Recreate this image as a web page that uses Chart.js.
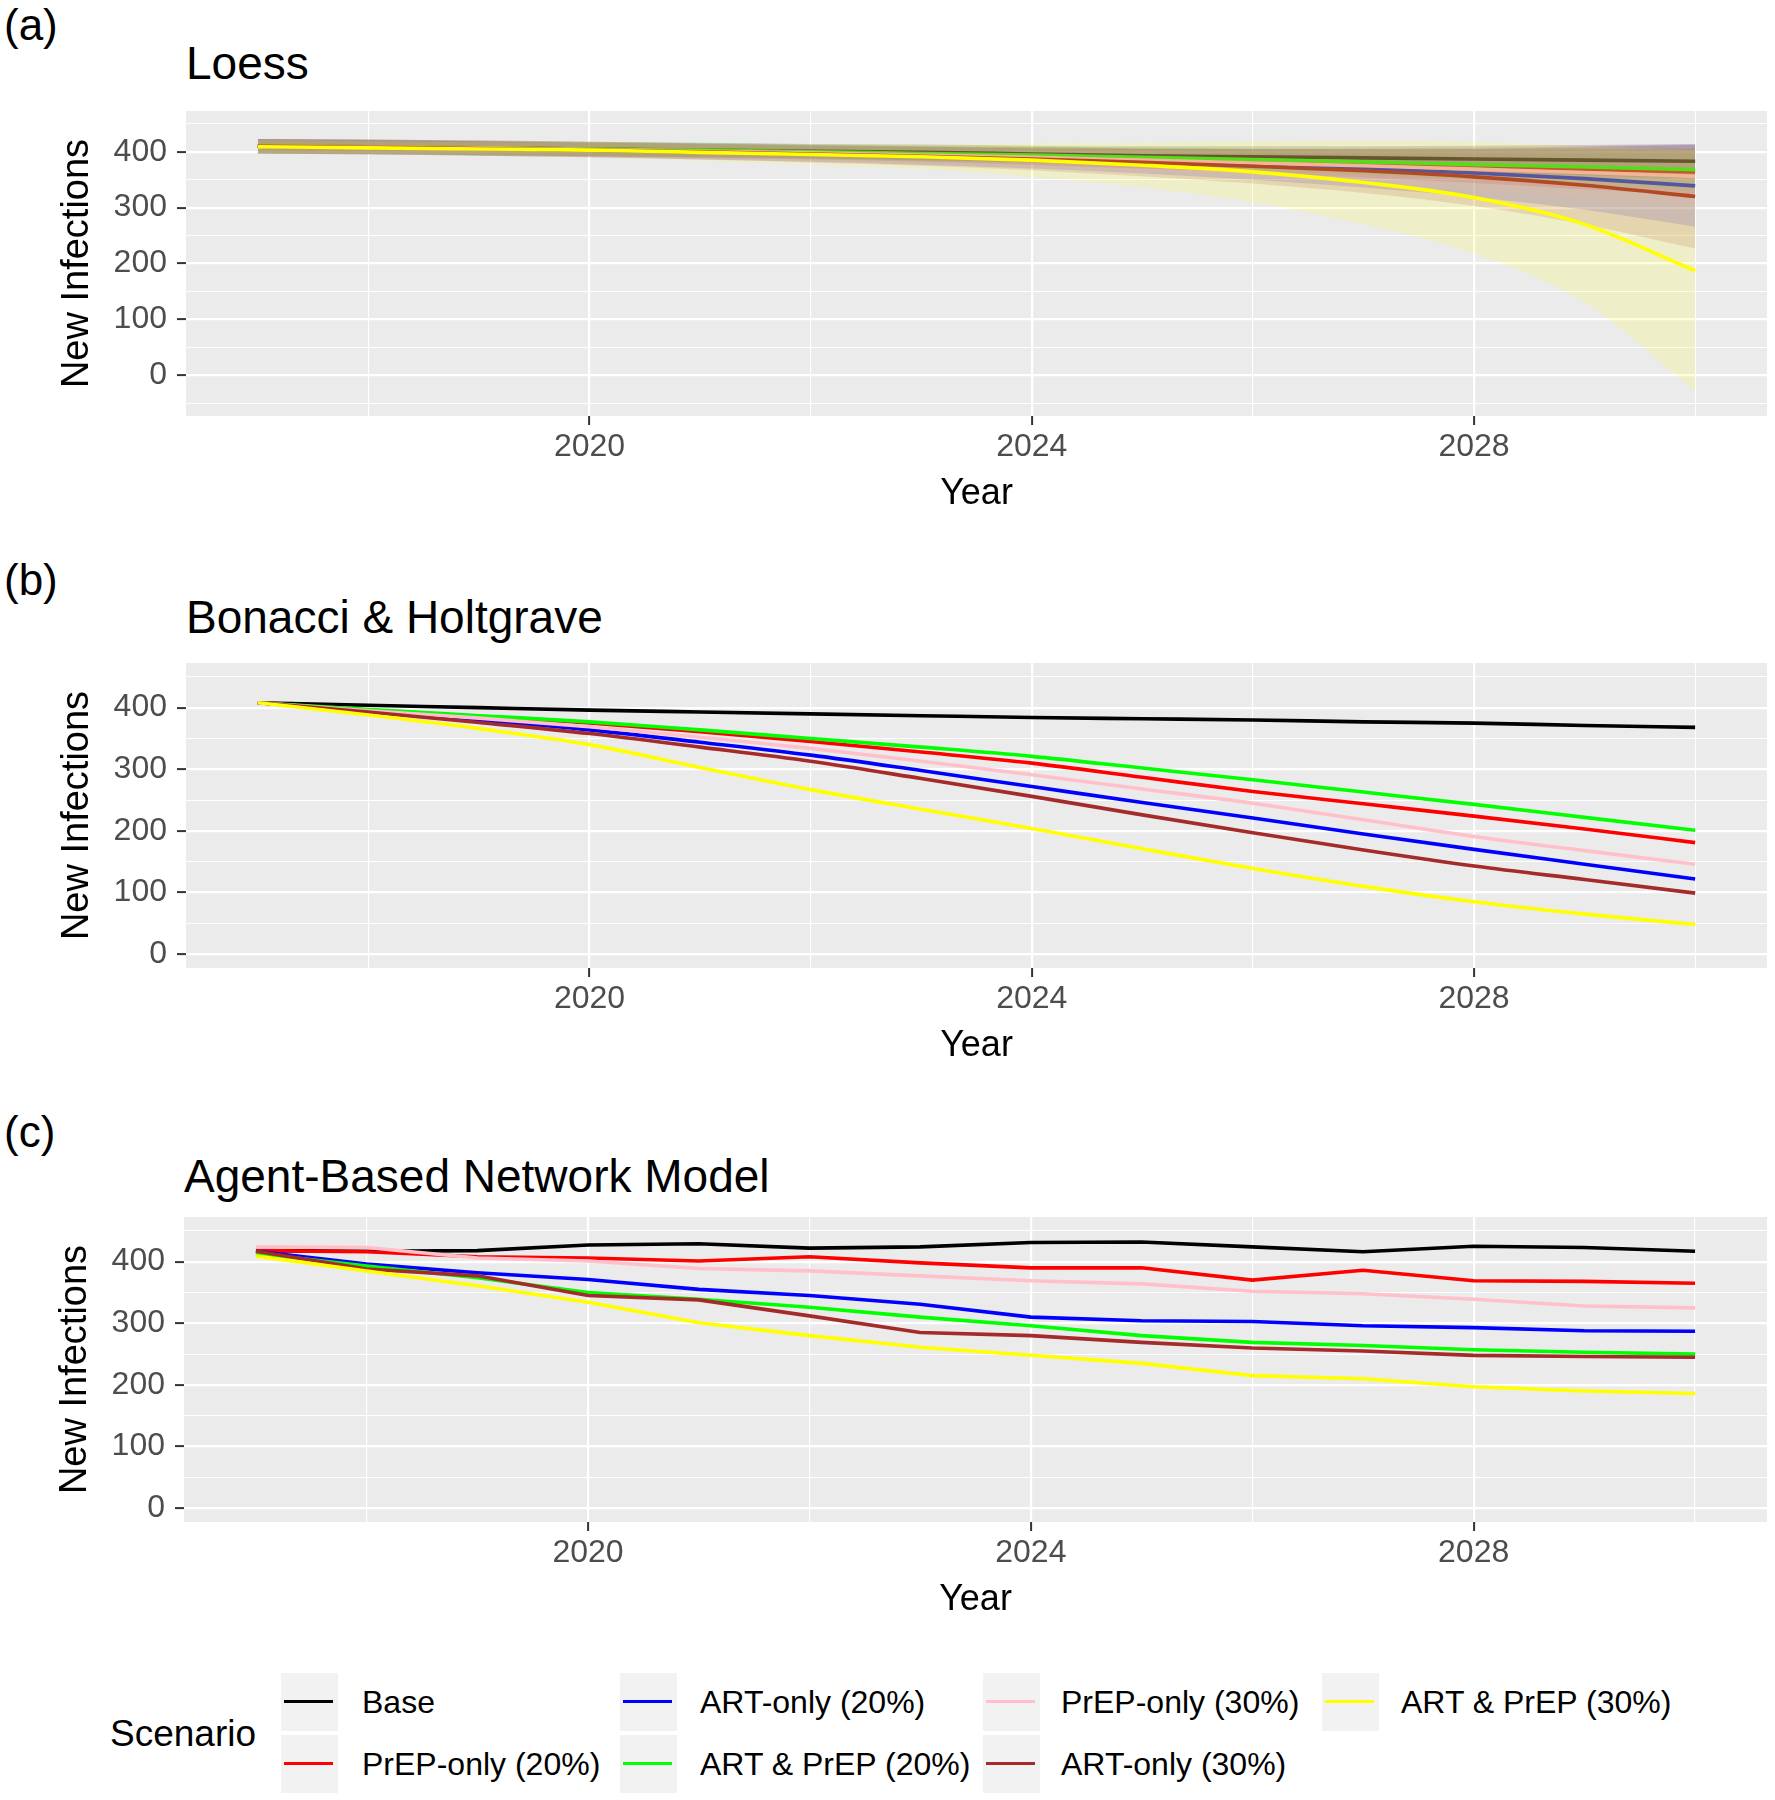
<!DOCTYPE html>
<html>
<head>
<meta charset="utf-8">
<script src="https://cdn.jsdelivr.net/npm/chart.js@4.4.1/dist/chart.umd.min.js"></script>
<style>
html,body{margin:0;padding:0;background:#ffffff;}
body{width:1775px;height:1800px;position:relative;overflow:hidden;font-family:"Liberation Sans",Arial,Helvetica,sans-serif;}
.t{position:absolute;white-space:nowrap;color:#000;}
canvas{position:absolute;left:0;}
.key{position:absolute;width:57px;height:58px;background:#F2F2F2;}
.key i{position:absolute;left:3px;width:49px;top:27px;height:3px;}
</style>
</head>
<body>
<div class="t" style="left:4px;top:3px;font-size:44px;line-height:44px;">(a)</div>
<div class="t" style="left:186px;top:40px;font-size:46px;line-height:46px;">Loess</div>
<div class="t" style="left:4px;top:558px;font-size:44px;line-height:44px;">(b)</div>
<div class="t" style="left:186px;top:594px;font-size:46px;line-height:46px;">Bonacci &amp; Holtgrave</div>
<div class="t" style="left:4px;top:1110px;font-size:44px;line-height:44px;">(c)</div>
<div class="t" style="left:184px;top:1153px;font-size:46px;line-height:46px;">Agent-Based Network Model</div>

<canvas id="ca" width="1775" height="420" style="top:100px;"></canvas>
<canvas id="cb" width="1775" height="420" style="top:652px;"></canvas>
<canvas id="cc" width="1775" height="420" style="top:1206px;"></canvas>

<div id="legend"></div>

<script>
// ---------------- DATA ----------------
const years = [2017,2018,2019,2020,2021,2022,2023,2024,2025,2026,2027,2028,2029,2030];
const scenarios = ['Base','PrEP-only (20%)','ART-only (20%)','ART & PrEP (20%)','PrEP-only (30%)','ART-only (30%)','ART & PrEP (30%)'];
const scenarioColors = ['#000000','#FF0000','#0000FF','#00FF00','#FFC0CB','#A52A2A','#FFFF00'];
const ribbonColors = ['rgba(0,0,0,0.15)','rgba(255,0,0,0.15)','rgba(0,0,255,0.15)','rgba(0,255,0,0.15)','rgba(255,192,203,0.15)','rgba(165,42,42,0.15)','rgba(255,255,0,0.15)'];

const xMajorTicks = [2020,2024,2028];
const xMinorTicks = [2018,2022,2026,2030];
const yMajorTicks = [0,100,200,300,400];
const yMinorTicksA = [-50,50,150,250,350,450];
const yMinorTicksBC = [50,150,250,350,450];

// (a) Loess fits
const loessBase    = [410,409,407,405,403,401,399,396,393,391,389,387,385,383];
const loessPrep20  = [410,409,407,405,402,399,396,392,388,384,379,374,369,364];
const loessArt20   = [410,408,406,403,400,397,393,388,383,377,370,362,352,339];
const loessBoth20  = [410,409,407,405,403,400,397,394,390,386,382,377,373,368];
const loessPrep30  = [410,409,407,404,401,398,394,390,385,380,375,369,363,356];
const loessArt30   = [410,408,406,403,400,396,392,387,381,374,366,355,340,320];
const loessBoth30  = [409,407,405,403,399,395,391,385,376,364,345,318,270,187];
// (a) Loess confidence bands
const loessBaseLo   = [397,396,394,392,390,388,385,381,376,372,368,363,358,352];
const loessBaseHi   = [423,422,420,418,416,414,413,411,410,410,410,411,412,414];
const loessPrep20Lo = [397,396,394,392,389,386,382,376,370,363,354,344,333,322];
const loessPrep20Hi = [423,422,420,418,415,412,410,408,406,405,404,404,405,406];
const loessArt20Lo  = [397,395,393,390,386,382,377,370,361,350,336,319,296,266];
const loessArt20Hi  = [423,421,419,416,414,412,409,406,405,404,404,405,408,412];
const loessBoth20Lo = [397,396,394,392,390,387,383,379,373,366,359,350,341,330];
const loessBoth20Hi = [423,422,420,418,416,413,411,409,407,406,405,404,405,406];
const loessPrep30Lo = [397,396,394,391,388,384,379,373,365,356,346,333,318,301];
const loessPrep30Hi = [423,422,420,417,414,412,409,407,405,404,404,405,408,411];
const loessArt30Lo  = [397,395,393,390,386,381,375,367,356,343,326,303,270,227];
const loessArt30Hi  = [423,421,419,416,414,411,409,407,406,405,406,407,410,413];
const loessBoth30Lo = [397,395,393,390,384,377,369,355,336,309,270,218,130,-29];
const loessBoth30Hi = [421,419,417,416,414,413,413,415,416,419,420,418,410,403];

// (b) Bonacci & Holtgrave
const bhBase   = [408,404,400,396,393,390,387,384,382,380,377,375,371,368];
const bhPrep20 = [408,396,386,375,361,345,328,310,287,264,244,224,203,181];
const bhArt20  = [408,394,380,364,344,323,298,272,246,221,195,170,146,122];
const bhBoth20 = [408,397,387,377,364,350,336,321,302,283,263,243,222,201];
const bhPrep30 = [408,395,383,369,352,334,313,291,268,245,218,191,168,146];
const bhArt30  = [408,393,376,358,336,313,285,256,226,197,169,143,121,99];
const bhBoth30 = [408,388,366,340,303,267,235,204,171,139,110,85,65,48];

// (c) Agent-Based Network Model
const abmBase   = [418,417,418,427,429,422,424,431,432,424,416,425,423,417];
const abmPrep20 = [418,416,408,406,401,408,398,390,390,370,386,369,368,365];
const abmArt20  = [417,396,382,371,355,345,331,310,304,303,296,293,288,287];
const abmBoth20 = [413,393,374,350,339,326,310,296,280,269,264,257,253,250];
const abmPrep30 = [424,423,406,401,389,385,377,369,364,352,348,339,328,325];
const abmArt30  = [417,388,377,345,338,312,285,280,269,260,255,248,246,245];
const abmBoth30 = [409,385,361,334,301,280,261,248,235,215,210,197,190,186];

// ---------------- HELPERS ----------------
const FONT = '"Liberation Sans", Arial, Helvetica, sans-serif';
const xMin = 2016.35, xMax = 2030.65;

function pts(vals){ return years.map((x,i)=>({x:x, y:vals[i]})); }

function xAxis(){
  const grid = xMajorTicks.concat(xMinorTicks).sort((a,b)=>a-b);
  return {
    type:'linear', min:xMin, max:xMax, bounds:'data',
    afterBuildTicks: s => { s.ticks = grid.map(v=>({value:v})); },
    afterFit: s => { s.height = 104; s.paddingLeft = 0; s.paddingRight = 0; },
    ticks:{autoSkip:false, maxRotation:0, minRotation:0, padding:6, color:'#4D4D4D',
      font:{family:FONT, size:32, lineHeight:1},
      callback: v => xMajorTicks.includes(v) ? String(v) : ''},
    grid:{color:'#FFFFFF', lineWidth: c => (c.tick && xMajorTicks.includes(c.tick.value)) ? 2.2 : 1.1,
      tickColor: c => (c.tick && xMajorTicks.includes(c.tick.value)) ? '#333333' : 'rgba(0,0,0,0)',
      tickLength:9, tickWidth:2},
    border:{display:false},
    title:{display:true, text:'Year', color:'#000000', font:{family:FONT, size:36, lineHeight:1.2}, padding:{top:0, bottom:4}}
  };
}

function yAxis(min, max, minor, width, titlePad){
  const grid = yMajorTicks.concat(minor).sort((a,b)=>a-b);
  return {
    type:'linear', min:min, max:max, bounds:'data',
    afterBuildTicks: s => { s.ticks = grid.map(v=>({value:v})); },
    afterFit: s => { s.width = width; s.paddingTop = 0; s.paddingBottom = 0; },
    ticks:{autoSkip:false, padding:10, color:'#4D4D4D', font:{family:FONT, size:32},
      callback: v => yMajorTicks.includes(v) ? String(v) : ''},
    grid:{color:'#FFFFFF', lineWidth: c => (c.tick && yMajorTicks.includes(c.tick.value)) ? 2.2 : 1.1,
      tickColor: c => (c.tick && yMajorTicks.includes(c.tick.value)) ? '#333333' : 'rgba(0,0,0,0)',
      tickLength:9, tickWidth:2},
    border:{display:false},
    title:{display:true, text:'New Infections', color:'#000000', font:{family:FONT, size:38, lineHeight:1.2}, padding:{top:titlePad, bottom:0}}
  };
}

const panelBg = {
  id:'panelBg',
  beforeDraw(chart){
    const a = chart.chartArea, ctx = chart.ctx;
    ctx.save(); ctx.fillStyle = '#EBEBEB';
    ctx.fillRect(a.left, a.top, a.right-a.left, a.bottom-a.top);
    ctx.restore();
  }
};

function lineDs(vals, i, smooth, order){
  return {label:scenarios[i], data:pts(vals), borderColor:scenarioColors[i], backgroundColor:scenarioColors[i],
    borderWidth:3.6, pointRadius:0, pointHoverRadius:0, fill:false,
    cubicInterpolationMode: smooth ? 'monotone' : 'default', tension:0, order:order};
}

function makeChart(id, datasets, yMin, yMax, yMinor, yWidth, titlePad){
  return new Chart(document.getElementById(id), {
    type:'line',
    data:{datasets:datasets},
    options:{
      responsive:false, animation:false, devicePixelRatio:1,
      layout:{padding:{top:11, right:8, left:0, bottom:0}},
      plugins:{legend:{display:false}, tooltip:{enabled:false}},
      events:[],
      scales:{x:xAxis(), y:yAxis(yMin, yMax, yMinor, yWidth, titlePad)}
    },
    plugins:[panelBg]
  });
}

// ---------------- PANEL (a) ----------------
const aLines = [loessBase, loessPrep20, loessArt20, loessBoth20, loessPrep30, loessArt30, loessBoth30];
const aLo = [loessBaseLo, loessPrep20Lo, loessArt20Lo, loessBoth20Lo, loessPrep30Lo, loessArt30Lo, loessBoth30Lo];
const aHi = [loessBaseHi, loessPrep20Hi, loessArt20Hi, loessBoth20Hi, loessPrep30Hi, loessArt30Hi, loessBoth30Hi];
const dsA = [];
for (let i=0;i<7;i++){
  const ord = 100 - 2*i;
  dsA.push({label:scenarios[i]+' upper', data:pts(aHi[i]), borderColor:'rgba(0,0,0,0)', borderWidth:0,
    pointRadius:0, fill:false, cubicInterpolationMode:'monotone', order:ord});
  dsA.push({label:scenarios[i]+' lower', data:pts(aLo[i]), borderColor:'rgba(0,0,0,0)', borderWidth:0,
    pointRadius:0, fill:'-1', backgroundColor:ribbonColors[i], cubicInterpolationMode:'monotone', order:ord});
  dsA.push(lineDs(aLines[i], i, true, ord-1));
}
makeChart('ca', dsA, -73, 473, yMinorTicksA, 186, 55);

// ---------------- PANEL (b) ----------------
const bLines = [bhBase, bhPrep20, bhArt20, bhBoth20, bhPrep30, bhArt30, bhBoth30];
makeChart('cb', bLines.map((v,i)=>lineDs(v, i, true, 20-i)), -22.5, 472.5, yMinorTicksBC, 186, 55);

// ---------------- PANEL (c) ----------------
const cLines = [abmBase, abmPrep20, abmArt20, abmBoth20, abmPrep30, abmArt30, abmBoth30];
makeChart('cc', cLines.map((v,i)=>lineDs(v, i, false, 20-i)), -22.5, 472.5, yMinorTicksBC, 184, 53);

// ---------------- LEGEND ----------------
const legendCols = [281, 619.5, 983, 1321.5];
const legendLabelX = [362, 700, 1061, 1401];
const legendRowTop = [1673, 1735];
const legendTextTop = [1686, 1748];
const lg = document.getElementById('legend');
const sc = document.createElement('div');
sc.className = 't'; sc.textContent = 'Scenario';
sc.style.cssText = 'left:110px;top:1715px;font-size:37px;line-height:37px;';
lg.appendChild(sc);
scenarios.forEach((name, i) => {
  const col = Math.floor(i/2), row = i%2;
  const k = document.createElement('div');
  k.className = 'key';
  k.style.left = legendCols[col] + 'px';
  k.style.top = legendRowTop[row] + 'px';
  const ln = document.createElement('i');
  ln.style.background = scenarioColors[i];
  k.appendChild(ln);
  lg.appendChild(k);
  const t = document.createElement('div');
  t.className = 't'; t.textContent = name;
  t.style.cssText = 'left:'+legendLabelX[col]+'px;top:'+legendTextTop[row]+'px;font-size:32px;line-height:32px;';
  lg.appendChild(t);
});
</script>
</body>
</html>
